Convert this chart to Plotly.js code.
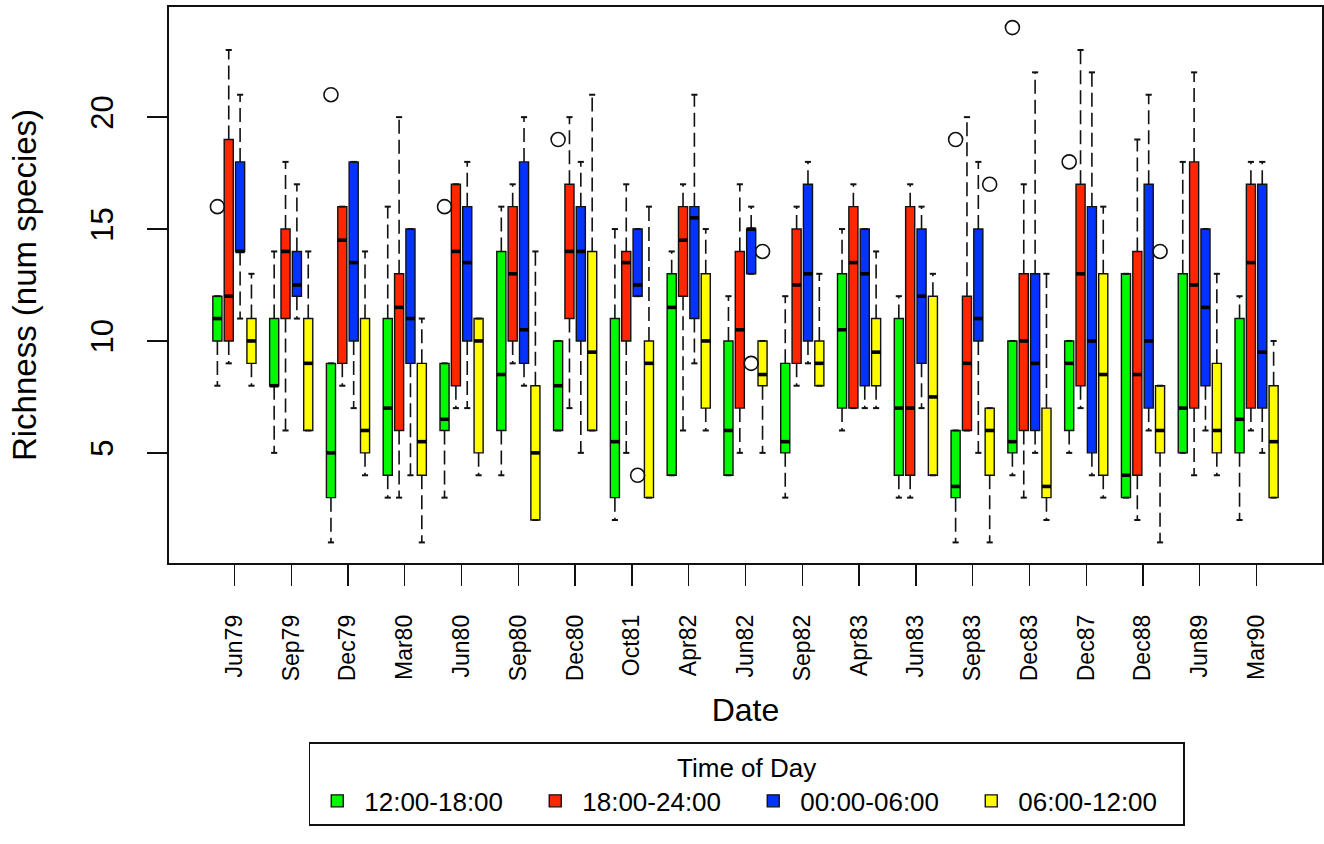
<!DOCTYPE html>
<html><head><meta charset="utf-8">
<script src="https://cdn.plot.ly/plotly-3.0.1.min.js"></script>
<style>html,body{margin:0;padding:0;background:#fff;} #chart{width:1324px;height:844px;}</style>
</head><body><div id="chart"></div>
<script>
// ---- data ----
const dates = ['Jun79','Sep79','Dec79','Mar80','Jun80','Sep80','Dec80','Oct81','Apr82','Jun82',
               'Sep82','Apr83','Jun83','Sep83','Dec83','Dec87','Dec88','Jun89','Mar90'];
const groupNames = ['12:00-18:00','18:00-24:00','00:00-06:00','06:00-12:00'];
const groupColors = ['#00F900','#FF2600','#0433FF','#FFFB00'];

// 12:00-18:00
const greenLower = [8,5,1,3,3,4,6,2,4,4,3,6,3,1,4,5,3,5,2];
const greenQ1    = [10,8,3,4,6,6,6,3,4,4,5,7,4,3,5,6,3,5,5];
const greenMed   = [11,8,5,7,6.5,8.5,8,5.5,11.5,6,5.5,10.5,7,3.5,5.5,9,4,7,6.5];
const greenQ3    = [12,11,9,11,9,14,10,11,13,10,9,13,11,6,10,10,13,13,11];
const greenUpper = [12,14,9,16,9,16,10,15,14,12,12,15,12,6,10,10,13,18,12];
const greenOutDates  = ['Jun79','Dec79','Jun80','Dec80','Sep83','Dec83','Dec87'];
const greenOutValues = [16,21,16,19,19,24,18];

// 18:00-24:00
const redLower = [9,6,8,3,7,9,7,5,6,5,8,7,3,6,3,7,2,4,6];
const redQ1    = [10,11,9,6,8,10,11,10,12,7,9,7,4,6,6,8,4,7,7];
const redMed   = [12,14,14.5,11.5,14,13,14,13.5,14.5,10.5,12.5,13.5,7,9,10,13,8.5,12.5,13.5];
const redQ3    = [19,15,16,13,17,16,17,14,16,14,15,16,16,12,13,17,14,18,17];
const redUpper = [23,18,16,20,17,17,20,17,17,17,16,17,17,20,17,23,19,22,18];
const redOutDates  = [];
const redOutValues = [];

// 00:00-06:00
const blueLower = [11,11,7,4,7,8,5,12,9,13,9,7,7,5,5,4,6,6,5];
const blueQ1    = [14,12,10,9,10,9,10,12,11,13,10,8,9,10,6,5,7,8,7];
const blueMed   = [14,12.5,13.5,11,13.5,10.5,14,12.5,15.5,15,13,13,12,11,9,10,10,11.5,9.5];
const blueQ3    = [18,14,18,15,16,18,16,15,16,15,17,15,15,15,13,16,17,15,17];
const blueUpper = [21,17,18,15,18,20,18,15,21,16,18,15,16,18,22,22,21,15,18];
const blueOutDates  = ['Oct81','Jun82'];
const blueOutValues = [4,9];

// 06:00-12:00
const yellowLower = [8,6,4,1,4,2,6,3,6,5,8,7,4,1,2,3,1,4,3];
const yellowQ1    = [9,6,5,4,5,2,6,3,7,8,8,8,4,4,3,4,5,5,3];
const yellowMed   = [10,9,6,5.5,10,5,9.5,9,10,8.5,9,9.5,7.5,6,3.5,8.5,6,6,5.5];
const yellowQ3    = [11,11,11,9,11,8,14,10,13,10,10,11,12,7,7,13,8,9,8];
const yellowUpper = [13,14,14,11,11,14,21,16,15,10,13,14,13,7,13,16,8,13,10];
const yellowOutDates  = ['Jun82','Sep83','Dec88'];
const yellowOutValues = [14,17,14];

const groups = [
  {lower:greenLower, q1:greenQ1, med:greenMed, q3:greenQ3, upper:greenUpper, outD:greenOutDates, outV:greenOutValues},
  {lower:redLower, q1:redQ1, med:redMed, q3:redQ3, upper:redUpper, outD:redOutDates, outV:redOutValues},
  {lower:blueLower, q1:blueQ1, med:blueMed, q3:blueQ3, upper:blueUpper, outD:blueOutDates, outV:blueOutValues},
  {lower:yellowLower, q1:yellowQ1, med:yellowMed, q3:yellowQ3, upper:yellowUpper, outD:yellowOutDates, outV:yellowOutValues}
];

// ---- geometry helpers ----
const nG = groupNames.length;
const step = nG + 1;                       // one empty slot between dates
const pos = (c, g) => step * c + g + 1;
const boxW = 0.8, stapleHalf = 0.27, medHalf = 0.4;
const FONT = 'Liberation Sans, Arial, Helvetica, sans-serif';

const traces = [];
const medX = [], medY = [], whX = [], whY = [], stX = [], stY = [];
const outX = [], outY = [];

groups.forEach((gd, g) => {
  const xs = dates.map((d, c) => pos(c, g));
  traces.push({
    type: 'box', name: groupNames[g], x: xs,
    q1: gd.q1, median: gd.med, q3: gd.q3,
    lowerfence: gd.q1, upperfence: gd.q3,
    width: boxW, whiskerwidth: 0,
    fillcolor: groupColors[g],
    line: {color: '#111', width: 1.4},
    boxpoints: false, hoverinfo: 'skip',
    showlegend: true
  });
  xs.forEach((x, c) => {
    medX.push(x - medHalf, x + medHalf, null); medY.push(gd.med[c], gd.med[c], null);
    if (gd.upper[c] > gd.q3[c]) { whX.push(x, x, null); whY.push(gd.q3[c], gd.upper[c], null); }
    if (gd.lower[c] < gd.q1[c]) { whX.push(x, x, null); whY.push(gd.q1[c], gd.lower[c], null); }
    stX.push(x - stapleHalf, x + stapleHalf, null); stY.push(gd.upper[c], gd.upper[c], null);
    stX.push(x - stapleHalf, x + stapleHalf, null); stY.push(gd.lower[c], gd.lower[c], null);
  });
  gd.outD.forEach((d, i) => { outX.push(pos(dates.indexOf(d), g)); outY.push(gd.outV[i]); });
});

traces.push({type:'scatter', mode:'lines', x: whX, y: whY, showlegend:false, hoverinfo:'skip',
  line:{color:'#111', width:1.6, dash:'14px,6px'}});
traces.push({type:'scatter', mode:'lines', x: stX, y: stY, showlegend:false, hoverinfo:'skip',
  line:{color:'#111', width:2}});
traces.push({type:'scatter', mode:'lines', x: medX, y: medY, showlegend:false, hoverinfo:'skip',
  line:{color:'#000', width:3.6}});
traces.push({type:'scatter', mode:'markers', x: outX, y: outY, showlegend:false, hoverinfo:'skip',
  marker:{symbol:'circle-open', size:14, color:'#111', line:{width:1.6, color:'#111'}}});

const tickPos = dates.map((d, c) => pos(c, 0) + (nG - 1) / 2);
const nBoxSlots = step * dates.length - 1;
const pad = 0.04 * nBoxSlots;

const layout = {
  width: 1324, height: 844,
  margin: {l: 168.5, r: 1.5, t: 6.5, b: 281, autoexpand: false},
  paper_bgcolor: '#fff', plot_bgcolor: '#fff',
  font: {family: FONT, color: '#000'},
  hovermode: false,
  boxmode: 'overlay',
  xaxis: {
    range: [0.5 - pad, nBoxSlots + 0.5 + pad],
    tickmode: 'array', tickvals: tickPos, ticktext: dates,
    tickangle: -90, tickfont: {size: 23, family: FONT},
    ticks: 'outside', ticklen: 21, tickwidth: 1.4, tickcolor: '#111',
    showline: true, mirror: true, linecolor: '#111', linewidth: 1.6,
    showgrid: false, zeroline: false, ticklabelstandoff: 20,
    title: {text: 'Date', font: {size: 32, family: FONT}, standoff: 18}
  },
  yaxis: {
    range: [0.08, 24.92],
    tickmode: 'array', tickvals: [5, 10, 15, 20], ticktext: ['5','10','15','20'],
    tickangle: -90, tickfont: {size: 31, family: FONT},
    ticks: 'outside', ticklen: 20, tickwidth: 1.4, tickcolor: '#111',
    showline: true, mirror: true, linecolor: '#111', linewidth: 1.6,
    showgrid: false, zeroline: false, ticklabelstandoff: 22,
    title: {text: 'Richness (num species)', font: {size: 33, family: FONT}, standoff: 38}
  },
  legend: {
    orientation: 'h', x: 0.501, xanchor: 'center', y: -0.322, yanchor: 'top',
    bordercolor: '#111', borderwidth: 1.6, bgcolor: '#fff',
    font: {size: 26, family: FONT},
    title: {text: 'Time of Day', side: 'top center', font: {size: 26, family: FONT}},
    itemwidth: 44,
    entrywidth: 159, entrywidthmode: 'pixels', itemclick: false, itemdoubleclick: false
  }
};

Plotly.newPlot('chart', traces, layout, {displayModeBar: false, staticPlot: true});
</script>
</body></html>
